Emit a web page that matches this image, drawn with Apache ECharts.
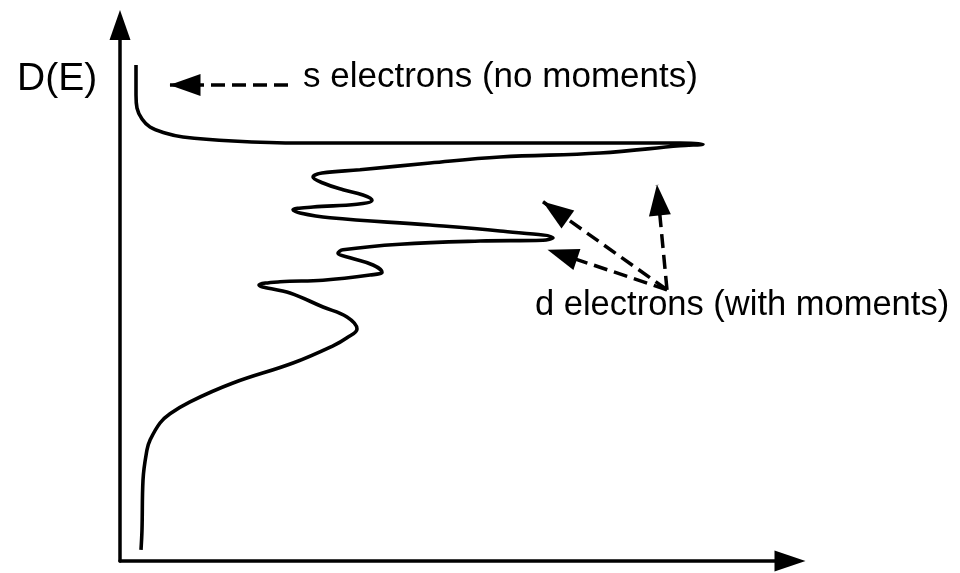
<!DOCTYPE html>
<html>
<head>
<meta charset="utf-8">
<title>D(E)</title>
<script src="https://cdn.jsdelivr.net/npm/echarts@6/dist/echarts.min.js"></script>
<style>
  html, body { margin: 0; padding: 0; background: #fff; }
  #chart { width: 960px; height: 573px; }
</style>
</head>
<body>
<div id="chart"></div>
<script>
// Density of states D(E): the curve runs along the energy axis (vertical),
// the horizontal offset is the density.
const density = [
  1.6, 1.6, 1.7, 2.2, 3.0, 4.5, 6.3, 11.3, 18.0, 33.0, 48.0, 56.0, 58.3,
  56.0, 48.0, 38.0, 31.0, 24.0, 20.2, 19.3, 20.3, 22.3, 24.3, 25.2, 23.7,
  19.3, 17.3, 18.0, 21.0, 31.0, 38.0, 43.3, 42.3, 36.0, 28.0, 22.3, 21.8,
  23.0, 25.3, 26.2, 25.0, 20.3, 16.0, 13.9, 17.0, 20.3, 22.7, 23.7,
  22.7, 21.3, 17.3, 11.3, 7.0, 5.0, 4.0, 3.0, 2.7, 2.3, 2.2, 2.1
];
const energy = [
  62.0, 58.25, 56.6, 55.25, 54.25, 53.5, 53.0, 52.5, 52.25, 52.25, 52.25, 52.25, 52.1,
  51.9, 51.0, 50.5, 49.75, 48.9, 48.5, 48.0, 47.25, 46.4, 45.75, 45.1, 44.6,
  44.25, 43.9, 43.5, 42.9, 42.0, 41.25, 40.4, 40.1, 40.0, 39.6, 38.9, 38.5,
  37.9, 37.0, 36.1, 35.75, 35.1, 34.9, 34.5, 33.5, 31.75, 30.5, 29.0,
  27.9, 26.9, 24.75, 22.25, 19.9, 18.4, 17.25, 15.1, 13.9, 10.1, 3.9, 1.4
];

// Annotation arrows: [fromDensity, fromEnergy, toDensity, toEnergy]
const sArrow = [16.8, 59.5, 5.0, 59.5];
const dArrows = [
  [54.7, 33.9, 42.3, 44.9],
  [54.7, 33.9, 42.8, 38.9],
  [54.7, 33.9, 53.7, 47.0]
];

const axisTitle = 'D(E)';
const sLabel = 's electrons (no moments)';
const dLabel = 'd electrons (with moments)';

const curve = density.map((d, i) => [d, energy[i]]);

// Dashed arrow: plain start, filled triangle head whose tip sits on the end point
const toSegment = a => [
  { coord: [a[0], a[1]], symbol: 'none' },
  { coord: [a[2], a[3]], symbol: 'triangle', symbolSize: [22, 31], symbolOffset: [0, 15] }
];

const FONT = '"Liberation Sans", Arial, Helvetica, sans-serif';

const chart = echarts.init(document.getElementById('chart'), null, { renderer: 'canvas' });

const bareAxis = (arrowSize) => ({
  type: 'value',
  min: 0,
  max: 67,
  axisLine: {
    show: true,
    onZero: false,
    symbol: ['none', 'triangle'],
    symbolSize: arrowSize,
    lineStyle: { color: '#000', width: 3.5 }
  },
  axisTick: { show: false },
  axisLabel: { show: false },
  splitLine: { show: false }
});

chart.setOption({
  animation: false,
  backgroundColor: '#fff',
  grid: { left: 120, right: 170, top: 25, bottom: 12, containLabel: false },
  xAxis: bareAxis([21, 31]),
  yAxis: bareAxis([21, 30]),
  graphic: [
    {
      type: 'text', left: 17, top: 60,
      style: { text: axisTitle, font: '39px ' + FONT, fill: '#000' }
    },
    {
      type: 'text', left: 303, top: 60,
      style: { text: sLabel, font: '35px ' + FONT, fill: '#000' }
    },
    {
      type: 'text', left: 535, top: 288,
      style: { text: dLabel, font: '34.5px ' + FONT, fill: '#000' }
    }
  ],
  series: [{
    type: 'line',
    data: curve,
    smooth: 0.4,
    symbol: 'none',
    silent: true,
    lineStyle: { color: '#000', width: 3.6 },
    markLine: {
      silent: true,
      label: { show: false },
      emphasis: { disabled: true },
      lineStyle: { color: '#000', width: 3.5, type: [14, 7] },
      itemStyle: { color: '#000' },
      data: [toSegment(sArrow)].concat(dArrows.map(toSegment))
    }
  }]
});
</script>
</body>
</html>
